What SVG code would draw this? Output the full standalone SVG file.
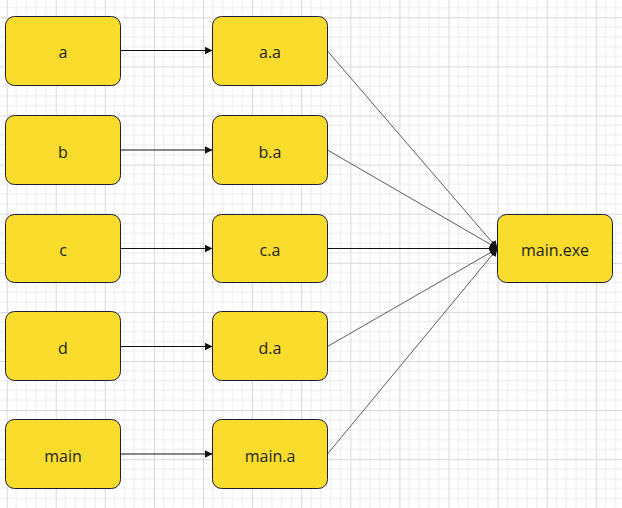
<svg xmlns="http://www.w3.org/2000/svg" width="622" height="508" viewBox="0 0 622 508">
<defs>
<pattern id="grid" patternUnits="userSpaceOnUse" x="6.6" y="17.3" width="49.1" height="49.1">
<path d="M9.82 0V49.1M19.64 0V49.1M29.46 0V49.1M39.28 0V49.1M0 9.82H49.1M0 19.64H49.1M0 29.46H49.1M0 39.28H49.1" stroke="#ececec" stroke-width="1" fill="none"/>
<path d="M0.5 0V49.1M0 0.5H49.1" stroke="#d8d8d8" stroke-width="1" fill="none"/>
</pattern>
<marker id="arr" viewBox="0 0 8 8" refX="8" refY="4" markerWidth="8" markerHeight="8" markerUnits="userSpaceOnUse" orient="auto">
<path d="M0 0L8 4L0 8Z" fill="#111"/>
</marker>
</defs>
<style>
.n rect{fill:#fadc2d;stroke:#1c1c3c;stroke-width:1}
.n text{font-family:"Open Sans","Noto Sans",sans-serif;font-size:16px;fill:#222;text-anchor:middle}
.e line{stroke:#111;stroke-width:1;marker-end:url(#arr)}
.e .d{stroke:#333;stroke-width:0.8}
</style>
<rect width="622" height="508" fill="#fff"/>
<rect width="622" height="508" fill="url(#grid)"/>
<g class="e" id="connectors">
<line x1="120.5" y1="50.5" x2="212.5" y2="50.5"/>
<line x1="120.5" y1="150" x2="212.5" y2="150"/>
<line x1="120.5" y1="248.5" x2="212.5" y2="248.5"/>
<line x1="120.5" y1="346.5" x2="212.5" y2="346.5"/>
<line x1="120.5" y1="454" x2="212.5" y2="454"/>
<line class="d" x1="327.5" y1="51" x2="497.5" y2="248.5"/>
<line class="d" x1="327.5" y1="150" x2="497.5" y2="248.5"/>
<line x1="327.5" y1="248.5" x2="497.5" y2="248.5"/>
<line class="d" x1="327.5" y1="346.5" x2="497.5" y2="248.5"/>
<line class="d" x1="327.5" y1="454" x2="497.5" y2="248.5"/>
</g>
<g class="n" id="node-a"><rect x="5.5" y="16.5" width="115" height="69" rx="9"/><text x="63" y="58">a</text></g>
<g class="n" id="node-b"><rect x="5.5" y="115.5" width="115" height="69" rx="9"/><text x="63" y="157.5">b</text></g>
<g class="n" id="node-c"><rect x="5.5" y="214.5" width="115" height="68" rx="9"/><text x="63" y="256">c</text></g>
<g class="n" id="node-d"><rect x="5.5" y="311.5" width="115" height="69" rx="9"/><text x="63" y="354">d</text></g>
<g class="n" id="node-main"><rect x="5.5" y="419.5" width="115" height="69" rx="9"/><text x="63" y="461.5">main</text></g>
<g class="n" id="node-aa"><rect x="212.5" y="16.5" width="115" height="69" rx="9"/><text x="270" y="58">a.a</text></g>
<g class="n" id="node-ba"><rect x="212.5" y="115.5" width="115" height="69" rx="9"/><text x="270" y="157.5">b.a</text></g>
<g class="n" id="node-ca"><rect x="212.5" y="214.5" width="115" height="68" rx="9"/><text x="270" y="256">c.a</text></g>
<g class="n" id="node-da"><rect x="212.5" y="311.5" width="115" height="69" rx="9"/><text x="270" y="354">d.a</text></g>
<g class="n" id="node-maina"><rect x="212.5" y="419.5" width="115" height="69" rx="9"/><text x="270" y="461.5">main.a</text></g>
<g class="n" id="node-mainexe"><rect x="497.5" y="214.5" width="115" height="68" rx="9"/><text x="555" y="256">main.exe</text></g>
</svg>
